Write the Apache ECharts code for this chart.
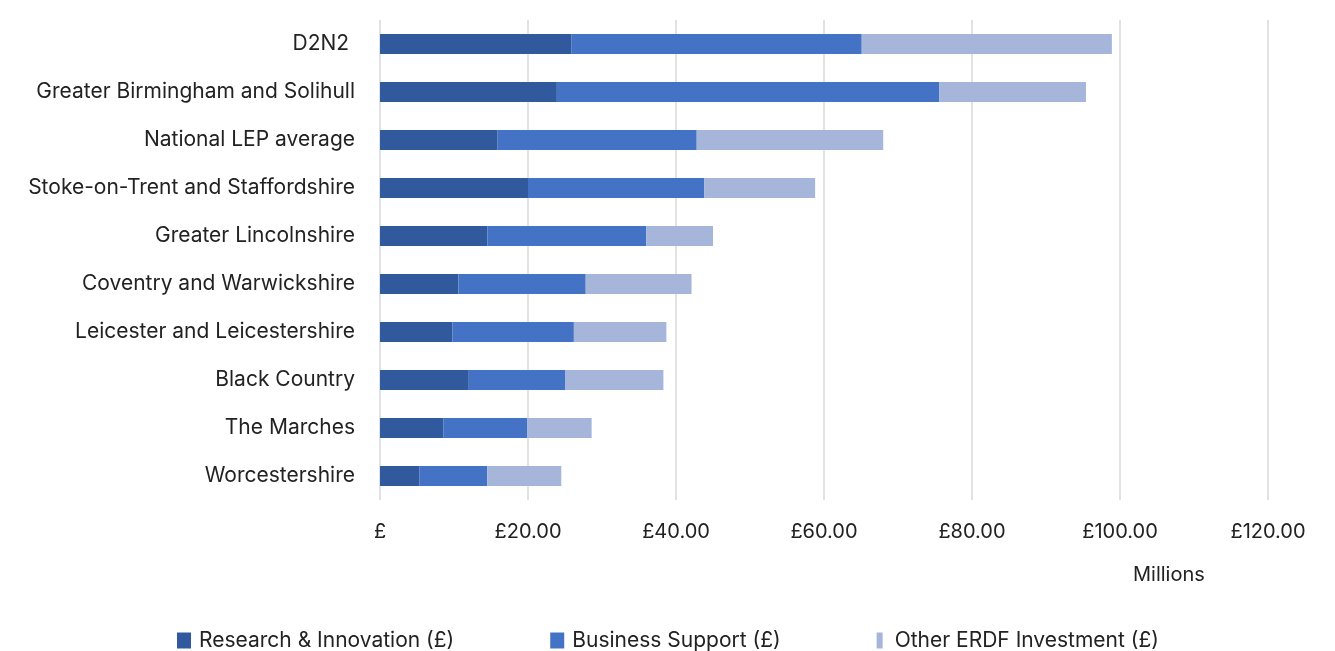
<!DOCTYPE html>
<html>
<head>
<meta charset="utf-8">
<script src="https://cdn.jsdelivr.net/npm/echarts@6/dist/echarts.min.js"></script>
<style>html,body{margin:0;padding:0;background:#fff}#c{width:1335px;height:651px}</style>
</head>
<body>
<div id="c"></div>
<script>
const categories = ['D2N2 ', 'Greater Birmingham and Solihull', 'National LEP average', 'Stoke-on-Trent and Staffordshire', 'Greater Lincolnshire', 'Coventry and Warwickshire', 'Leicester and Leicestershire', 'Black Country', 'The Marches', 'Worcestershire'];
const researchInnovation = [25.9, 23.9, 15.9, 20.0, 14.5, 10.6, 9.8, 12.0, 8.55, 5.3];
const businessSupport = [39.2, 51.7, 26.9, 23.8, 21.5, 17.2, 16.4, 13.0, 11.35, 9.2];
const otherERDF = [33.8, 19.8, 25.2, 15.0, 9.0, 14.3, 12.5, 13.3, 8.7, 10.0];
const seriesNames = ['Research & Innovation (£)', 'Business Support (£)', 'Other ERDF Investment (£)'];
const colors = ['#30599E', '#4472C4', '#A6B5DA'];

const chart = echarts.init(document.getElementById('c'));
const font = 'Inter, "Noto Sans", sans-serif';
const mk = (name, data, color) => ({
  name, type: 'bar', stack: 'total', data, barWidth: 20,
  itemStyle: { color }, emphasis: { disabled: true }
});
chart.setOption({
  animation: false,
  textStyle: { fontFamily: font },
  grid: { left: 380, right: 67, top: 20, bottom: 151, containLabel: false },
  xAxis: {
    type: 'value', min: 0, max: 120, interval: 20,
    axisLine: { show: false }, axisTick: { show: false },
    splitLine: { show: true, lineStyle: { color: '#d9d9d9', width: 1.5 } },
    axisLabel: {
      color: '#222', fontSize: 20, margin: 22, fontFamily: font,
      formatter: v => v === 0 ? '£' : '£' + v.toFixed(2)
    }
  },
  yAxis: {
    type: 'category', data: categories, inverse: true,
    axisLine: { show: false }, axisTick: { show: false },
    axisLabel: { color: '#222', fontSize: 21, margin: 25, fontFamily: font }
  },
  legend: {
    left: 172, top: 625, itemGap: 96, itemWidth: 14, itemHeight: 16,
    icon: 'rect',
    textStyle: { color: '#222', fontSize: 21, fontFamily: font, padding: [0, 0, 0, 3] },
    data: [
      { name: seriesNames[0] },
      { name: seriesNames[1] },
      { name: seriesNames[2], icon: 'path://M0,0h6v16h-6z' }
    ]
  },
  graphic: [{
    type: 'text', left: 1133, top: 565,
    style: { text: 'Millions', fill: '#222', font: '20px ' + font }
  }],
  series: [
    mk(seriesNames[0], researchInnovation, colors[0]),
    mk(seriesNames[1], businessSupport, colors[1]),
    mk(seriesNames[2], otherERDF, colors[2])
  ]
});
</script>
</body>
</html>
